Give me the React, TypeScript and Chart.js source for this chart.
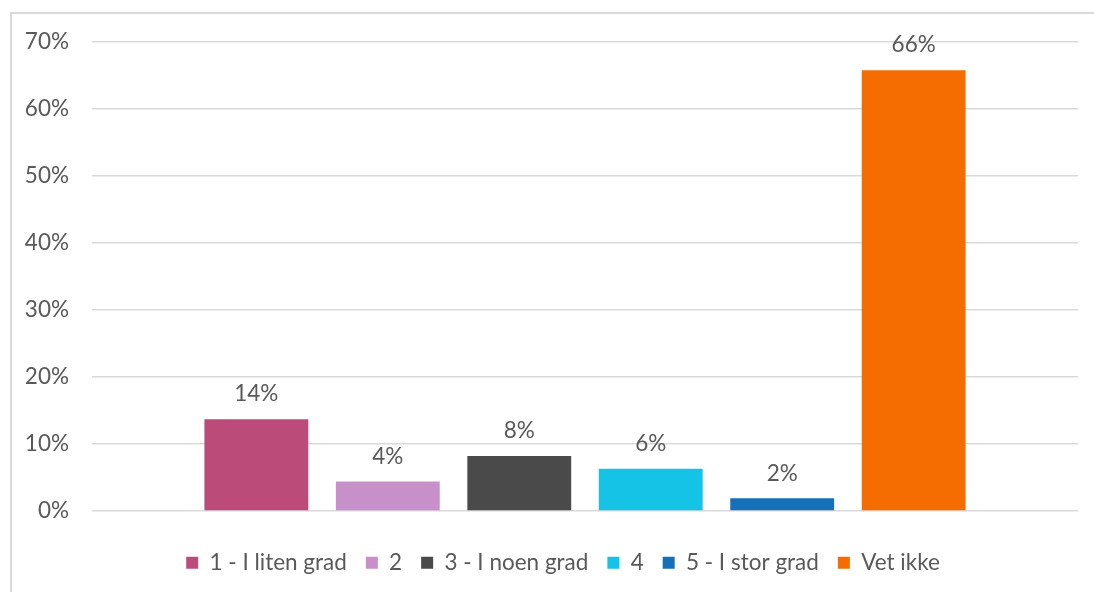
import React, { useEffect, useRef } from "react";
import { Chart, registerables } from "chart.js";

Chart.register(...registerables);

const categories = [""];
const seriesNames = ["1 - I liten grad", "2", "3 - I noen grad", "4", "5 - I stor grad", "Vet ikke"];
const seriesValues = [13.7, 4.4, 8.2, 6.3, 1.9, 65.8];
const seriesColors = ["#BB4B79", "#C890C8", "#4A4A4A", "#15C3E6", "#1570B8", "#F56D00"];
const yTicks = [0, 10, 20, 30, 40, 50, 60, 70];

const FONT = "Lato";
const TEXT = "#595959";
const SIZE = 22.5;

const dataLabelPlugin = {
  id: "dataLabels",
  afterDatasetsDraw(chart: any) {
    const ctx = chart.ctx;
    ctx.save();
    ctx.font = `${SIZE}px ${FONT}`;
    ctx.fillStyle = TEXT;
    ctx.textAlign = "center";
    ctx.textBaseline = "middle";
    chart.data.datasets.forEach((ds: any, i: number) => {
      const meta = chart.getDatasetMeta(i);
      meta.data.forEach((bar: any, j: number) => {
        const v = ds.data[j] as number;
        ctx.fillText(Math.round(v) + "%", bar.x, bar.y - 25);
      });
    });
    ctx.restore();
  },
};

const legendShiftPlugin = {
  id: "legendShift",
  afterLayout(chart: any) {
    const lg = chart.legend;
    if (lg) {
      lg.left += 18;
      lg.right += 18;
    }
  },
};

export default function App() {
  const ref = useRef<HTMLCanvasElement>(null);
  useEffect(() => {
    if (!ref.current) return;
    const chart = new Chart(ref.current, {
      type: "bar",
      data: {
        labels: categories,
        datasets: seriesNames.map((name, i) => ({
          label: name,
          data: [seriesValues[i]],
          backgroundColor: seriesColors[i],
          borderWidth: 0,
          categoryPercentage: 0.8,
          barPercentage: 0.79,
        })),
      },
      options: {
        animation: false,
        responsive: false,
        maintainAspectRatio: false,
        layout: { padding: { left: 12, right: 16, top: 42, bottom: 8 } },
        plugins: {
          legend: {
            position: "bottom",
            labels: {
              boxWidth: 12,
              boxHeight: 12,
              padding: 19,
              color: TEXT,
              font: { family: FONT, size: SIZE },
            },
          },
          tooltip: { enabled: false },
        },
        scales: {
          x: {
            display: true,
            grid: { display: false },
            border: { display: false },
            ticks: { display: false },
            afterFit: (s: any) => {
              s.height = 21.5;
            },
          },
          y: {
            min: 0,
            max: 70,
            afterBuildTicks: (s: any) => {
              s.ticks = yTicks.map((v) => ({ value: v }));
            },
            afterFit: (s: any) => {
              s.width = 80;
            },
            grid: { color: "#D9D9D9", lineWidth: 1.5, drawTicks: false },
            border: { display: false },
            ticks: {
              padding: 23,
              color: TEXT,
              font: { family: FONT, size: SIZE },
              callback: (v: any) => v + "%",
            },
          },
        },
      },
      plugins: [dataLabelPlugin, legendShiftPlugin],
    });
    return () => chart.destroy();
  }, []);
  return (
    <div style={{ position: "fixed", left: 0, top: 0, width: 1094, height: 592, background: "#fff", overflow: "hidden" }}>
      <div
        style={{
          position: "absolute",
          left: 10,
          top: 12,
          width: 1100,
          height: 600,
          borderLeft: "2px solid #D9D9D9",
          borderTop: "2px solid #D9D9D9",
        }}
      />
      <canvas ref={ref} width={1094} height={592} style={{ position: "absolute", left: 0, top: 0 }} />
    </div>
  );
}
